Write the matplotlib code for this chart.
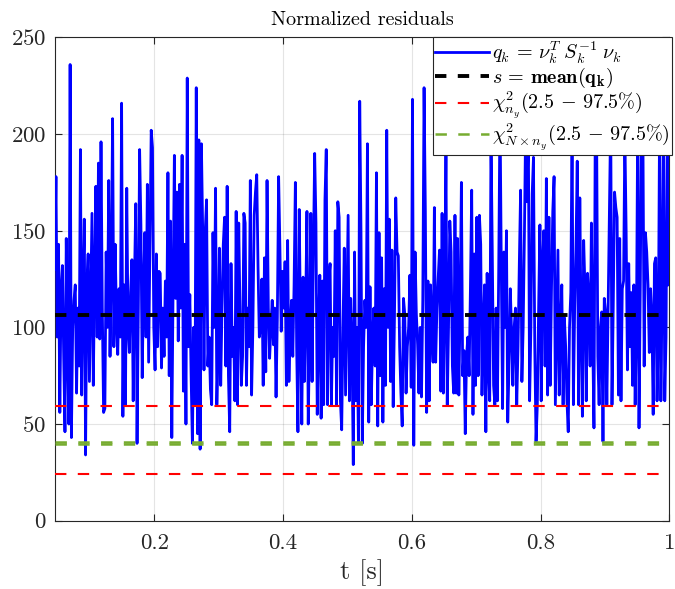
import numpy as np
import matplotlib
matplotlib.use("Agg")
import matplotlib.pyplot as plt

# ---------------- data ----------------
t_start = 0.045
t_step = 0.002

q_strip1 = [130, 178, 95, 143, 56, 120, 132, 85, 46, 146, 90, 50, 236, 43, 100, 114, 122, 66, 110, 80,
            192, 65, 120, 156, 34, 122, 138, 72, 115, 159, 70, 125, 173, 95, 185, 94, 196, 110, 56, 58,
            139, 100, 176, 85, 130, 208, 90, 143, 105, 86, 120, 95, 216, 54, 122, 60, 172, 100, 87, 118,
            135, 62, 125, 164, 40, 110, 192, 153, 74, 120, 149, 95, 174, 82, 140, 202, 193, 100, 78, 138]
q_strip2 = [90, 129, 128, 79, 110, 85, 124, 95, 180, 75, 155, 43, 120, 189, 115, 170, 93, 174, 110, 189,
            67, 143, 50, 229, 90, 117, 75, 40, 100, 60, 224, 45, 197, 37, 195, 150, 78, 150, 166, 80,
            95, 68, 60, 149, 100, 172, 60, 90, 141, 70, 110, 143, 157, 80, 173, 75, 46, 133, 85, 100,
            62, 160, 60, 154, 108, 70, 85, 159, 154, 70, 110, 90, 176, 65, 100, 158, 170, 179, 131, 95]
q_strip3 = [100, 125, 70, 136, 77, 176, 110, 84, 100, 114, 91, 110, 64, 105, 178, 141, 98, 129, 110, 134,
            70, 145, 72, 100, 114, 85, 122, 175, 90, 46, 161, 100, 50, 126, 72, 110, 160, 50, 95, 159,
            72, 138, 190, 154, 55, 100, 127, 53, 124, 60, 166, 192, 60, 124, 133, 60, 100, 85, 150, 60,
            165, 157, 62, 47, 100, 141, 65, 110, 158, 62, 115, 90, 29, 139, 62, 100, 40, 217, 149, 40]
q_strip4 = [90, 114, 100, 195, 51, 121, 60, 95, 110, 80, 180, 49, 149, 75, 136, 51, 120, 70, 202, 100,
            156, 72, 140, 59, 105, 167, 139, 137, 90, 66, 49, 115, 107, 66, 90, 100, 127, 69, 218, 39,
            139, 107, 91, 66, 100, 64, 114, 224, 160, 56, 124, 62, 122, 100, 82, 162, 82, 110, 126, 140,
            67, 159, 66, 110, 191, 60, 100, 155, 139, 80, 66, 158, 66, 146, 65, 110, 175, 75, 88, 45]
q_strip5 = [85, 95, 75, 120, 171, 55, 138, 70, 157, 75, 158, 143, 65, 100, 122, 46, 128, 80, 62, 200,
            139, 70, 60, 110, 62, 130, 215, 131, 58, 139, 100, 150, 51, 80, 120, 97, 70, 100, 110, 60,
            90, 133, 171, 72, 100, 150, 210, 165, 205, 62, 100, 169, 188, 90, 41, 60, 110, 153, 62, 135,
            150, 80, 177, 65, 157, 70, 120, 160, 178, 60, 100, 140, 65, 100, 122, 60, 105, 90, 62, 46]
q_strip6 = [100, 118, 205, 60, 110, 140, 186, 60, 167, 100, 54, 145, 120, 62, 128, 115, 80, 154, 95, 48,
            205, 210, 85, 60, 100, 108, 41, 115, 108, 60, 110, 159, 210, 60, 112, 170, 162, 157, 65, 146,
            62, 120, 124, 200, 150, 78, 133, 90, 118, 70, 122, 60, 100, 210, 48, 122, 215, 205, 80, 149,
            139, 122, 87, 120, 105, 55, 133, 136, 62, 95, 210, 62, 122, 200, 62, 95, 215, 122]

q_values = q_strip1 + q_strip2 + q_strip3 + q_strip4 + q_strip5 + q_strip6
t_values = t_start + t_step * np.arange(len(q_values))

s_mean = 106.5
chi2_ny_bounds = [24.4, 59.3]
chi2_Nny_bounds = [39.5, 40.5]

legend_labels = [r'$q_k\,=\,\nu_k^T\; S_k^{-1}\; \nu_k$',
                 r'$s\,=\,\mathbf{mean}(\mathbf{q_k})$',
                 r'$\chi^2_{n_y}(2.5\,-\,97.5\%)$',
                 r'$\chi^2_{N\times n_y}(2.5\,-\,97.5\%)$']
title_text = 'Normalized residuals'
xlabel_text = 't [s]'
x_ticks = [0.2, 0.4, 0.6, 0.8, 1.0]
x_ticklabels = ['0.2', '0.4', '0.6', '0.8', '1']
y_ticks = [0, 50, 100, 150, 200, 250]

# ---------------- styling ----------------
plt.rcParams['font.family'] = 'serif'
plt.rcParams['font.serif'] = ['cmr10', 'DejaVu Serif']
plt.rcParams['mathtext.fontset'] = 'cm'
plt.rcParams['axes.formatter.use_mathtext'] = True
plt.rcParams['lines.scale_dashes'] = False

fig = plt.figure(figsize=(6.75, 5.89), dpi=100)
ax = fig.add_axes([0.081, 0.116, 0.9105, 0.8204])

dash = (0, (8.2, 8.2))
blue = (0, 0, 1)
red = (1, 0, 0)
green = (0.467, 0.675, 0.188)

h1, = ax.plot(t_values, q_values, color=blue, lw=2.0, zorder=3)
tt = [t_values[0], 1.0]
h2, = ax.plot(tt, [s_mean, s_mean], color='k', lw=2.8, ls=dash, zorder=4)
h3, = ax.plot(tt, [chi2_ny_bounds[0]] * 2, color=red, lw=1.5, ls=dash, zorder=4)
ax.plot(tt, [chi2_ny_bounds[1]] * 2, color=red, lw=1.5, ls=dash, zorder=4)
h4, = ax.plot(tt, [chi2_Nny_bounds[0]] * 2, color=green, lw=1.8, ls=dash, zorder=4)
ax.plot(tt, [chi2_Nny_bounds[1]] * 2, color=green, lw=1.8, ls=dash, zorder=4)

ax.set_xlim(t_start, 1.0)
ax.set_ylim(0, 250)
ax.set_xticks(x_ticks)
ax.set_xticklabels(x_ticklabels)
ax.set_yticks(y_ticks)

ax.grid(True, color=(0.15, 0.15, 0.15), alpha=0.12, lw=0.8)
ax.set_axisbelow(True)
for sp in ax.spines.values():
    sp.set_color((0.15, 0.15, 0.15))
    sp.set_linewidth(0.8)
ax.tick_params(direction='in', length=5, width=0.8, top=True, right=True,
               colors=(0.15, 0.15, 0.15), labelsize=16.5)
ax.tick_params(axis='x', pad=9)
ax.tick_params(axis='y', pad=6)

ax.set_title(title_text, fontsize=14.5, pad=9, color='k')
ax.set_xlabel(xlabel_text, fontsize=19, labelpad=5, color=(0.15, 0.15, 0.15))

leg = ax.legend([h1, h2, h3, h4], legend_labels, loc='upper right',
                bbox_to_anchor=(1.0044, 1.0), borderaxespad=0, fontsize=14.5,
                frameon=True, fancybox=False, framealpha=1, edgecolor=(0.15, 0.15, 0.15),
                handlelength=2.7, handletextpad=0.15, labelspacing=0.0, borderpad=0.1)
leg.get_frame().set_linewidth(0.8)
leg.set_zorder(10)

fig.savefig('out.png', dpi=100)
